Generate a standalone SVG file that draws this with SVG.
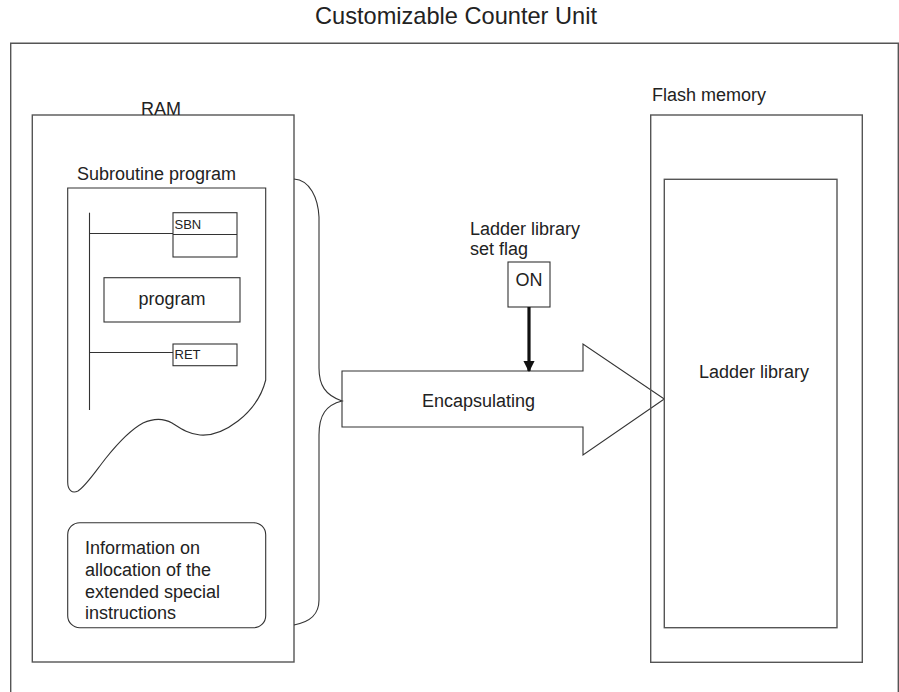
<svg xmlns="http://www.w3.org/2000/svg" width="899" height="692" viewBox="0 0 899 692">
<style>
text{font-family:"Liberation Sans",Arial,sans-serif;fill:#222;font-size:18px}
.box{fill:none;stroke:#555;stroke-width:1.4}
.thin{fill:none;stroke:#333;stroke-width:1.1}
.small{font-size:13px}
</style>
<defs>
<marker id="ah" viewBox="0 0 10 10" refX="9" refY="5" markerWidth="3.6" markerHeight="5" markerUnits="strokeWidth" orient="auto">
<path d="M0,0 L10,5 L0,10 Z" fill="#111"/>
</marker>
</defs>
<rect width="899" height="692" fill="#fff"/>
<text x="456" y="23.5" text-anchor="middle" style="font-size:23.6px">Customizable Counter Unit</text>
<g id="frame"><path class="box" d="M10.7,692 V43.3 H898.3 V692"/></g>
<g id="ram">
<rect class="box" x="32.3" y="115" width="261.7" height="547"/>
<text x="161" y="115" text-anchor="middle">RAM</text>
</g>
<g id="subroutine">
<text x="77" y="180">Subroutine program</text>
<path class="thin" d="M67.7,188 H265.7 V380 C262,395 252,410 238,421 C225,431 212,436 200,435 C188,434 180,428 172,423 C163,418 152,419 143,423 C132,429 118,443 106,458 C95,472 86,486 78,491 C72,494 67.7,490 67.7,482 Z"/>
<line class="thin" x1="89.5" y1="212.7" x2="89.5" y2="410"/>
<line class="thin" x1="89.5" y1="233.5" x2="173" y2="233.5"/>
<rect class="thin" x="173" y="212.7" width="64" height="44.3"/>
<line class="thin" x1="173" y1="234.5" x2="237" y2="234.5"/>
<text class="small" x="174.5" y="229">SBN</text>
<rect class="thin" x="104" y="277.7" width="136" height="44.3"/>
<text x="172" y="305" text-anchor="middle">program</text>
<line class="thin" x1="89.5" y1="352.5" x2="173" y2="352.5"/>
<rect class="thin" x="173" y="344" width="64" height="21.7"/>
<text class="small" x="174.5" y="359">RET</text>
</g>
<g id="info">
<rect class="thin" x="67.7" y="522.7" width="198" height="105" rx="12" ry="12"/>
<text x="85" y="554">Information on</text>
<text x="85" y="576">allocation of the</text>
<text x="85" y="598">extended special</text>
<text x="85" y="619">instructions</text>
</g>
<g id="encapsulating">
<path class="thin" fill="#fff" d="M342,371 H583 V344 L664.3,399 L583,455 V427 H342 Z" style="fill:#fff"/>
<text x="422" y="407">Encapsulating</text>
</g>
<g id="flag">
<text x="470" y="235">Ladder library</text>
<text x="470" y="255">set flag</text>
<rect class="thin" x="508" y="262" width="42" height="45"/>
<text x="529" y="286" text-anchor="middle">ON</text>
</g>
<g id="flash">
<text x="652" y="100.7">Flash memory</text>
<rect class="box" x="650.7" y="115" width="211.6" height="547.3"/>
</g>
<g id="ladder-library">
<rect class="box" x="664.3" y="179.3" width="172.7" height="448.4"/>
<text x="754" y="377.7" text-anchor="middle">Ladder library</text>
</g>
<g id="connectors">
<path class="thin" d="M294,179 C310,180 318,198 319,217 L319,368 C319,385 325,395 342,401 C326,405 319,415 319,435 L319,600 C319,615 310,622 294,625"/>
<line x1="529" y1="307" x2="529" y2="371" stroke="#111" stroke-width="3.2" marker-end="url(#ah)"/>
</g>
</svg>
